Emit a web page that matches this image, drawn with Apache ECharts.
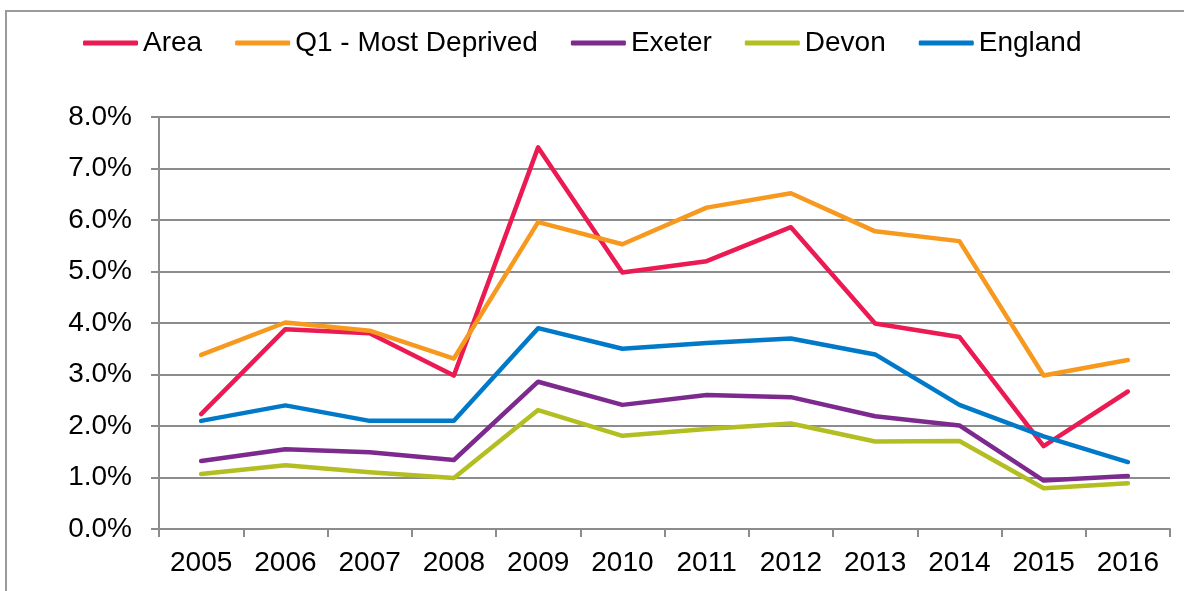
<!DOCTYPE html>
<html>
<head>
<meta charset="utf-8">
<script src="https://cdn.jsdelivr.net/npm/echarts@6/dist/echarts.min.js"></script>
<style>
  html, body { margin: 0; padding: 0; background: #fff; }
  #chart { width: 1184px; height: 591px; }
</style>
</head>
<body>
<div id="chart"></div>
<script>
// Years on the category axis
const years = ['2005', '2006', '2007', '2008', '2009', '2010', '2011', '2012', '2013', '2014', '2015', '2016'];

// Rates per year, in percent
const area = [2.23, 3.88, 3.80, 2.98, 7.41, 4.98, 5.20, 5.86, 3.99, 3.73, 1.61, 2.67];
const q1MostDeprived = [3.38, 4.01, 3.85, 3.31, 5.96, 5.53, 6.24, 6.52, 5.78, 5.59, 2.98, 3.28];
const exeter = [1.32, 1.55, 1.49, 1.34, 2.86, 2.41, 2.60, 2.56, 2.19, 2.01, 0.94, 1.03];
const devon = [1.07, 1.24, 1.10, 0.99, 2.31, 1.81, 1.94, 2.05, 1.70, 1.71, 0.79, 0.89];
const england = [2.10, 2.40, 2.10, 2.10, 3.90, 3.50, 3.61, 3.70, 3.39, 2.41, 1.80, 1.30];

const seriesNames = ['Area', 'Q1 - Most Deprived', 'Exeter', 'Devon', 'England'];
const seriesData = [area, q1MostDeprived, exeter, devon, england];
const seriesColors = ['#EC1A52', '#F7991F', '#7D2A8F', '#B3BE22', '#0079C9'];

const FONT = '"Liberation Sans", Arial, sans-serif';
const GRID_COLOR = '#8C8C8C';

const chart = echarts.init(document.getElementById('chart'), null, { renderer: 'canvas' });

chart.setOption({
  animation: false,
  backgroundColor: '#ffffff',
  textStyle: { fontFamily: FONT },
  graphic: [
    {
      type: 'rect',
      shape: { x: 6, y: 11, width: 1200, height: 620 },
      style: { fill: 'none', stroke: '#9A9A9A', lineWidth: 2 },
      silent: true,
      z: -1
    }
  ],
  legend: {
    top: 24,
    left: 78,
    itemGap: 33,
    itemWidth: 55,
    itemHeight: 5,
    icon: 'roundRect',
    textStyle: { fontFamily: FONT, fontSize: 28, color: '#000' },
    data: seriesNames
  },
  grid: {
    left: 159,
    right: 14,
    top: 117,
    bottom: 62,
    containLabel: false
  },
  xAxis: {
    type: 'category',
    data: years,
    boundaryGap: true,
    axisLine: { show: true, lineStyle: { color: GRID_COLOR, width: 2 } },
    axisTick: { show: true, length: 8, lineStyle: { color: GRID_COLOR, width: 2 } },
    axisLabel: { fontFamily: FONT, fontSize: 28, color: '#000', margin: 20 },
    splitLine: { show: false }
  },
  yAxis: {
    type: 'value',
    min: 0,
    max: 8,
    interval: 1,
    axisLine: { show: true, lineStyle: { color: GRID_COLOR, width: 2 } },
    axisTick: { show: true, length: 8, lineStyle: { color: GRID_COLOR, width: 2 } },
    axisLabel: {
      fontFamily: FONT,
      fontSize: 28,
      color: '#000',
      margin: 27,
      formatter: v => v.toFixed(1) + '%'
    },
    splitLine: { show: true, lineStyle: { color: GRID_COLOR, width: 2 } }
  },
  series: seriesNames.map((name, i) => ({
    name: name,
    type: 'line',
    data: seriesData[i],
    symbol: 'none',
    showSymbol: false,
    color: seriesColors[i],
    lineStyle: { color: seriesColors[i], width: 4.5, cap: 'round', join: 'round' }
  }))
});
</script>
</body>
</html>
